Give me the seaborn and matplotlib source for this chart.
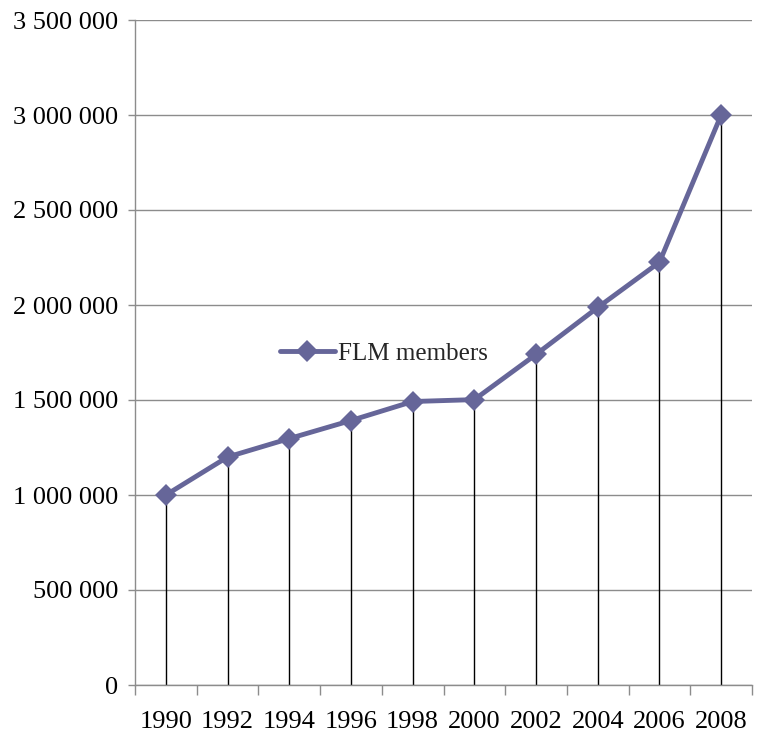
import matplotlib
matplotlib.use("Agg")
import matplotlib.pyplot as plt
import seaborn as sns
import numpy as np
import pandas as pd
from matplotlib.ticker import FuncFormatter, FixedLocator, MultipleLocator

years = ["1990", "1992", "1994", "1996", "1998", "2000", "2002", "2004", "2006", "2008"]
members = [1000000, 1200000, 1297000, 1392000, 1492000, 1502000, 1740000, 1987000, 2225000, 3000000]
series_name = "FLM members"

sns.set_theme(style="white")
plt.rcParams["font.family"] = ["Liberation Serif", "DejaVu Serif"]

df = pd.DataFrame({"pos": np.arange(len(years)), "value": members, "series": series_name})

fig = plt.figure(figsize=(7.57, 7.37), dpi=100)
ax = fig.add_axes([135/757, 52/737, 617/757, 665/737])

line_color = "#666699"

ax.set_ylim(0, 3500000)
ax.set_xlim(-0.5, len(years) - 0.5)
ax.yaxis.set_major_locator(MultipleLocator(500000))
ax.grid(axis="y", color="#8c8c8c", linewidth=1.0, zorder=0)
ax.grid(axis="x", visible=False)

# drop lines
ax.vlines(df["pos"], 0, df["value"], colors="black", linewidth=1.0, zorder=2)

sns.lineplot(data=df, x="pos", y="value", hue="series", palette=[line_color],
             marker="D", markersize=11.5, markeredgewidth=0, linewidth=3.5,
             ax=ax, zorder=3)

for s in ["top", "right"]:
    ax.spines[s].set_visible(False)
for s in ["left", "bottom"]:
    ax.spines[s].set_color("#8c8c8c")
    ax.spines[s].set_linewidth(1.0)

ax.yaxis.set_major_formatter(FuncFormatter(lambda v, p: f"{int(v):,}".replace(",", " ")))
ax.tick_params(axis="y", which="major", left=True, length=5, width=1, color="#8c8c8c",
               labelsize=19, pad=7, labelcolor="black")

ax.xaxis.set_major_locator(FixedLocator(np.arange(len(years) + 1) - 0.5))
ax.xaxis.set_major_formatter(FuncFormatter(lambda v, p: ""))
ax.set_xticks(np.arange(len(years)), labels=years, minor=True)
ax.tick_params(axis="x", which="major", bottom=True, direction="out", length=7, width=1, color="#8c8c8c")
ax.tick_params(axis="x", which="minor", bottom=True, length=0, labelsize=19, pad=19, labelcolor="black")

ax.set_xlabel("")
ax.set_ylabel("")

ax.legend(loc="center left", bbox_to_anchor=(0.235, 0.498), frameon=False,
          fontsize=18, handlelength=2.2, handletextpad=0.12, borderaxespad=0,
          borderpad=0)

fig.savefig("out.png", dpi=100)
